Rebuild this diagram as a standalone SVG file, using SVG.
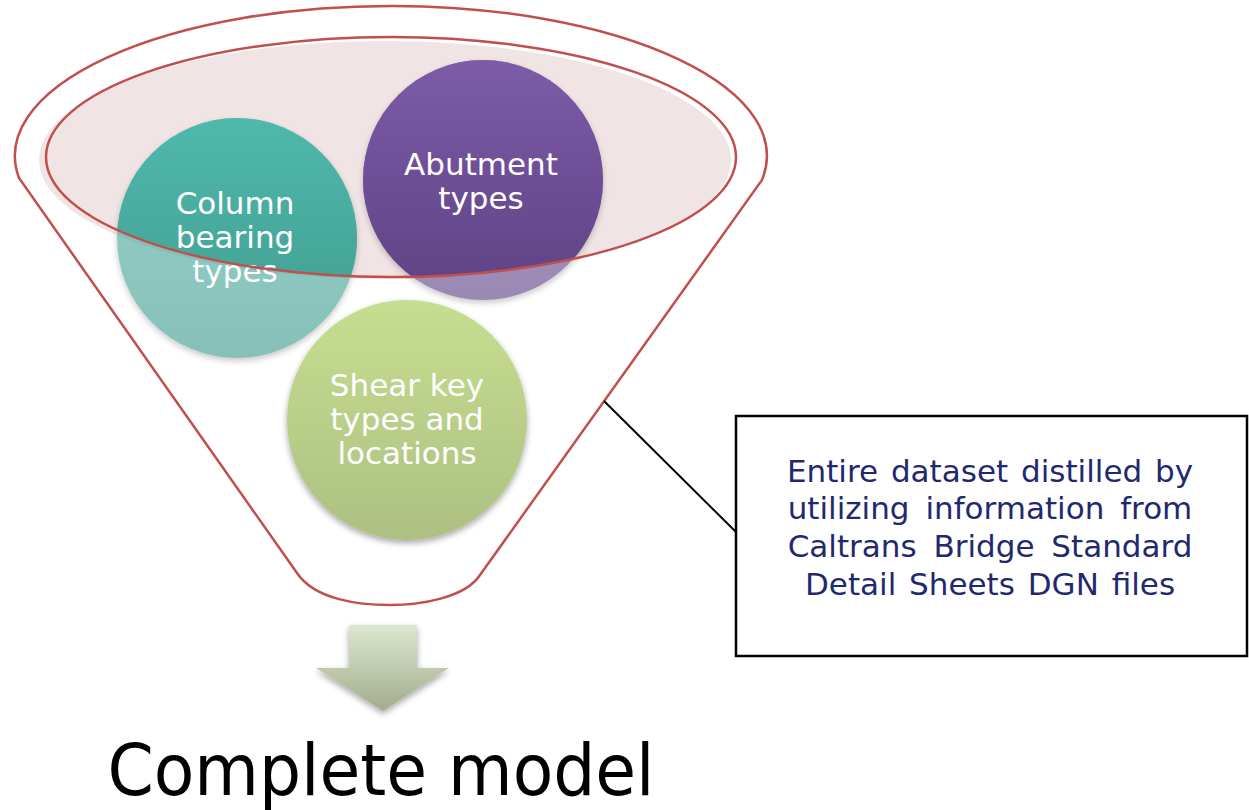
<svg xmlns="http://www.w3.org/2000/svg" width="1249" height="810" viewBox="0 0 1249 810">
<defs>
<style>
.ctext{font-family:"DejaVu Sans","Noto Sans",sans-serif;font-size:31px;fill:#ffffff;text-anchor:middle}
.btext{font-family:"DejaVu Sans","Noto Sans",sans-serif;font-size:31px;fill:#1f2a6e;text-anchor:middle}
.red{fill:none;stroke:#c0504d;stroke-width:2.5}
</style>
<linearGradient id="gTeal" x1="0" y1="0" x2="0" y2="1"><stop offset="0" stop-color="#50b9ac"/><stop offset="1" stop-color="#3f9a8e"/></linearGradient>
<linearGradient id="gPurple" x1="0" y1="0" x2="0" y2="1"><stop offset="0" stop-color="#7d5ba8"/><stop offset="1" stop-color="#5e4284"/></linearGradient>
<linearGradient id="gGreen" x1="0" y1="0" x2="0" y2="1"><stop offset="0" stop-color="#c6de90"/><stop offset="1" stop-color="#adc082"/></linearGradient>
<linearGradient id="gArrow" x1="0" y1="0" x2="0" y2="1"><stop offset="0" stop-color="#dde7cf"/><stop offset="1" stop-color="#a2ac8c"/></linearGradient>
<filter id="sh" x="-20%" y="-20%" width="140%" height="150%"><feGaussianBlur in="SourceAlpha" stdDeviation="3"/><feOffset dy="3" result="b"/><feComponentTransfer><feFuncA type="linear" slope="0.35"/></feComponentTransfer><feMerge><feMergeNode/><feMergeNode in="SourceGraphic"/></feMerge></filter>
<clipPath id="inner"><ellipse cx="391" cy="157" rx="345" ry="120"/></clipPath>
</defs>
<rect width="1249" height="810" fill="#ffffff"/>
<g id="funnel">
<path class="red" d="M19,178 A376,150 0 1 1 762,180 L480,575 C465,598 420,605 390,605 C360,605 315,600 297,573 Z" fill="#ffffff"/>
<ellipse cx="385" cy="160" rx="346" ry="119" fill="#f1e4e5"/>
</g>
<g id="column-bearing">
<circle cx="237" cy="238" r="120" fill="url(#gTeal)" opacity="0.62" filter="url(#sh)"/>
<circle cx="237" cy="238" r="120" fill="url(#gTeal)" clip-path="url(#inner)"/>
</g>
<g id="abutment">
<circle cx="483" cy="180" r="120" fill="url(#gPurple)" opacity="0.62" filter="url(#sh)"/>
<circle cx="483" cy="180" r="120" fill="url(#gPurple)" clip-path="url(#inner)"/>
</g>
<g id="shear-key">
<circle cx="407" cy="420" r="120" fill="url(#gGreen)" filter="url(#sh)"/>
<text class="ctext" x="407" y="396">Shear key</text>
<text class="ctext" x="407" y="430">types and</text>
<text class="ctext" x="407" y="464">locations</text>
</g>
<g id="labels">
<text class="ctext" x="235" y="214">Column</text>
<text class="ctext" x="235" y="248">bearing</text>
<text class="ctext" x="235" y="282">types</text>
<text class="ctext" x="481" y="175">Abutment</text>
<text class="ctext" x="481" y="209">types</text>
</g>
<g id="inner-rim">
<ellipse class="red" cx="391" cy="157" rx="345" ry="120"/>
</g>
<g id="connectors">
<line x1="604" y1="401" x2="737" y2="533" stroke="#000000" stroke-width="2"/>
</g>
<g id="note">
<rect x="736" y="416" width="511" height="240" fill="#ffffff" stroke="#000000" stroke-width="2.5"/>
<text class="btext" x="990" y="482" word-spacing="3">Entire dataset distilled by</text>
<text class="btext" x="990" y="519" word-spacing="6">utilizing information from</text>
<text class="btext" x="990" y="557" word-spacing="7">Caltrans Bridge Standard</text>
<text class="btext" x="990" y="595" word-spacing="3">Detail Sheets DGN files</text>
</g>
<g id="arrow">
<polygon points="349,625 417,625 417,668 449,668 383,711 316,668 349,668" fill="url(#gArrow)" filter="url(#sh)"/>
</g>
<g id="result">
<text x="381" y="795" font-family="'DejaVu Sans Condensed','DejaVu Sans',sans-serif" font-size="72" fill="#000000" text-anchor="middle" textLength="547" lengthAdjust="spacingAndGlyphs">Complete model</text>
</g>
</svg>
